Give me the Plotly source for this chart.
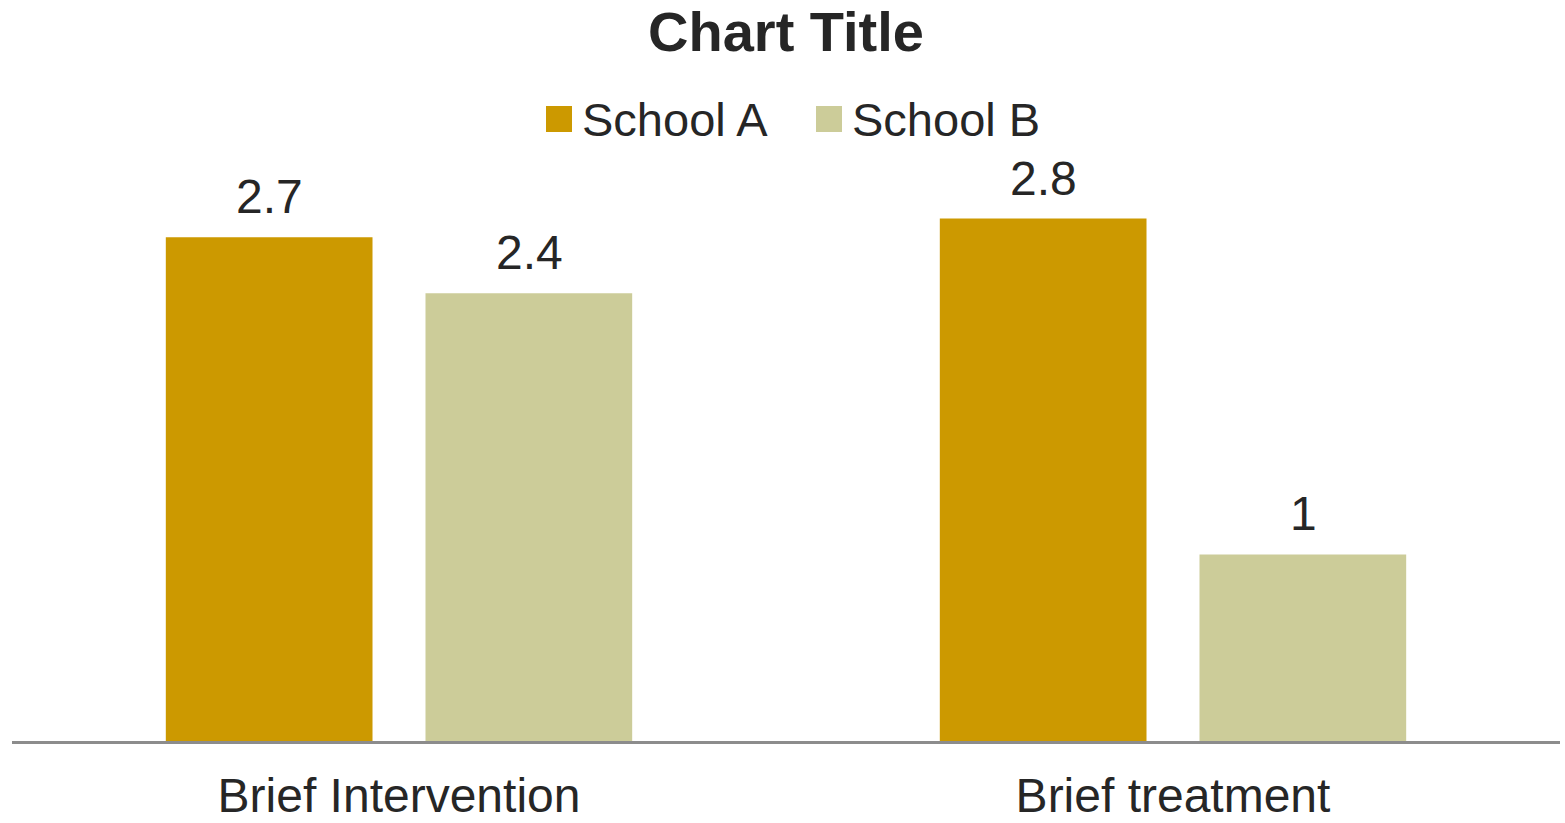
import plotly.graph_objects as go

categories = ["Brief Intervention", "Brief treatment"]
series_names = ["School A", "School B"]
school_a = [2.7, 2.8]
school_b = [2.4, 1.0]
colors = ["#CC9900", "#CCCC99"]
title_text = "Chart Title"

FONT = "Liberation Sans, Arial, sans-serif"
TXT = "#262626"

L, R, T, B = 12, 5, 100, 82
PW = 1565 - L - R
PH = 823 - T - B

fig = go.Figure()
for name, vals, col in zip(series_names, [school_a, school_b], colors):
    fig.add_trace(go.Bar(x=categories, y=vals, name=name, marker_color=col,
                         marker_line_width=0, showlegend=False, hoverinfo="skip"))

# data labels
offsets = [-130, 130]
for vals, off in zip([school_a, school_b], offsets):
    for c, v in zip(categories, vals):
        fig.add_annotation(x=c, y=v, xref="x", yref="y", text=f"{v:g}", showarrow=False,
                           xshift=off, yanchor="bottom", yshift=12,
                           font=dict(family=FONT, size=48, color=TXT))

# manual legend
leg_items = [(546, 580), (816, 850)]
for (sx, tx), name, col in zip(leg_items, series_names, colors):
    fig.add_shape(type="rect", xref="paper", yref="paper",
                  x0=(sx - L) / PW, x1=(sx + 26 - L) / PW,
                  y0=(823 - B - 132) / PH, y1=(823 - B - 106) / PH,
                  fillcolor=col, line_width=0, layer="above")
    fig.add_annotation(xref="paper", yref="paper", x=(tx - L) / PW, y=(823 - B - 120) / PH,
                       xanchor="left", yanchor="middle", text=name, showarrow=False,
                       font=dict(family=FONT, size=47, color=TXT))

fig.update_layout(
    width=1565, height=823,
    margin=dict(l=L, r=R, t=T, b=B),
    paper_bgcolor="white", plot_bgcolor="white",
    barmode="group", bargap=0.329, bargroupgap=0.204,
    title=dict(text=f"<b>{title_text}</b>", x=0.5, xanchor="center", xref="paper",
               y=1 - 31 / 823, yanchor="middle",
               font=dict(family=FONT, size=56, color=TXT)),
    xaxis=dict(showline=True, linecolor="#8C8C8C", linewidth=3, ticks="outside",
               ticklen=10, tickcolor="rgba(0,0,0,0)", showgrid=False, automargin=False,
               tickfont=dict(family=FONT, size=48, color=TXT)),
    yaxis=dict(range=[0, PH / 186.6], visible=False, showgrid=False, automargin=False),
)

fig.write_html("out.html")
